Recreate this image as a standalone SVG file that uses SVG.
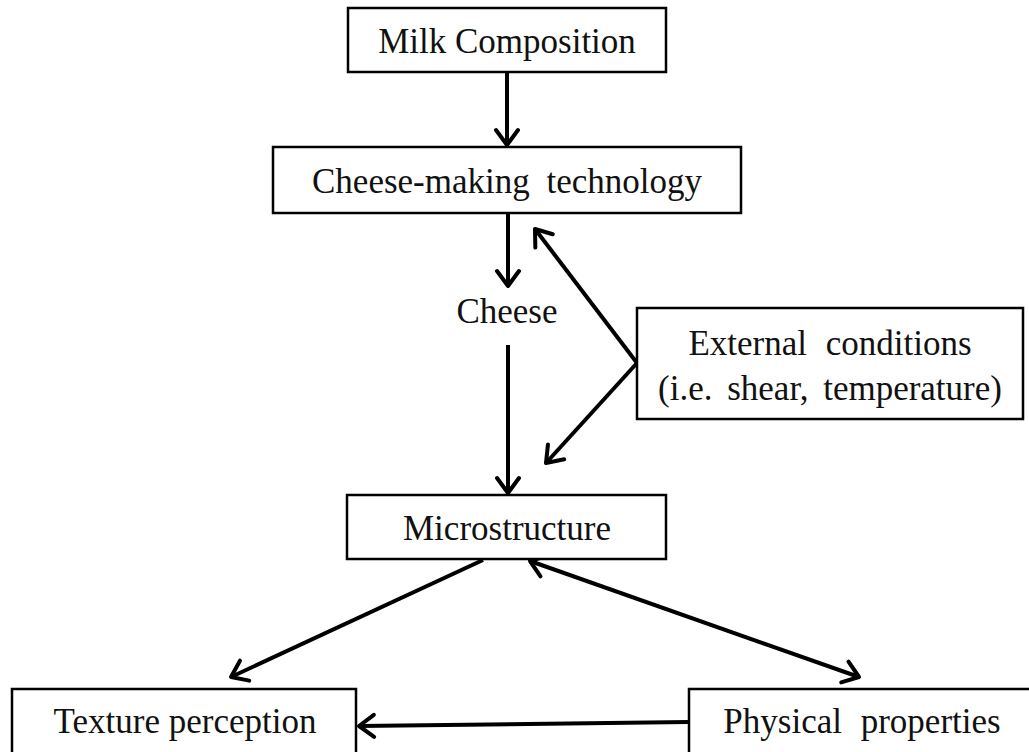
<svg xmlns="http://www.w3.org/2000/svg" width="1029" height="752" viewBox="0 0 1029 752">
<style>
.box{fill:#fff;stroke:#000;stroke-width:2.5}
.t{font-family:"Liberation Serif","Times New Roman",serif;font-size:35px;fill:#111;text-anchor:middle}
.c{fill:none;stroke:#000;stroke-width:4}
</style>
<defs>
<marker id="ah" markerUnits="userSpaceOnUse" viewBox="-20 -20 40 40" markerWidth="40" markerHeight="40" refX="0" refY="0" orient="auto-start-reverse" overflow="visible">
<path d="M-15,-11 L0,0 L-15,11" fill="none" stroke="#000" stroke-width="4" stroke-linecap="round" stroke-linejoin="round"/>
</marker>
</defs>
<rect width="1029" height="752" fill="#fff"/>
<g id="connectors">
<line class="c" x1="507" y1="72" x2="507" y2="145" marker-end="url(#ah)"/>
<line class="c" x1="508" y1="213" x2="508" y2="286" marker-end="url(#ah)"/>
<line class="c" x1="508" y1="345" x2="508" y2="493" marker-end="url(#ah)"/>
<line class="c" x1="637" y1="363" x2="535" y2="229" marker-end="url(#ah)"/>
<line class="c" x1="637" y1="363" x2="546" y2="463" marker-end="url(#ah)"/>
<line class="c" x1="483" y1="560" x2="231" y2="677" marker-end="url(#ah)"/>
<line class="c" x1="530" y1="561" x2="859" y2="677" marker-start="url(#ah)" marker-end="url(#ah)"/>
<line class="c" x1="688" y1="722" x2="359" y2="726" marker-end="url(#ah)"/>
</g>
<g id="milk">
<rect class="box" x="348" y="8" width="318" height="64"/>
<text class="t" x="507" y="53">Milk Composition</text>
</g>
<g id="tech">
<rect class="box" x="273" y="147" width="468" height="66"/>
<text class="t" x="507" y="193" word-spacing="8">Cheese-making technology</text>
</g>
<g id="cheese">
<text class="t" x="507" y="323">Cheese</text>
</g>
<g id="external">
<rect class="box" x="637" y="308" width="386" height="111"/>
<text class="t" x="830" y="355" word-spacing="10">External conditions</text>
<text class="t" x="830" y="400" word-spacing="6">(i.e. shear, temperature)</text>
</g>
<g id="micro">
<rect class="box" x="347" y="495" width="319" height="64"/>
<text class="t" x="507" y="540">Microstructure</text>
</g>
<g id="texture">
<rect class="box" x="12" y="689" width="344" height="80"/>
<text class="t" x="185" y="733">Texture perception</text>
</g>
<g id="physical">
<rect class="box" x="689" y="689" width="360" height="80"/>
<text class="t" x="862" y="733" word-spacing="10">Physical properties</text>
</g>
</svg>
